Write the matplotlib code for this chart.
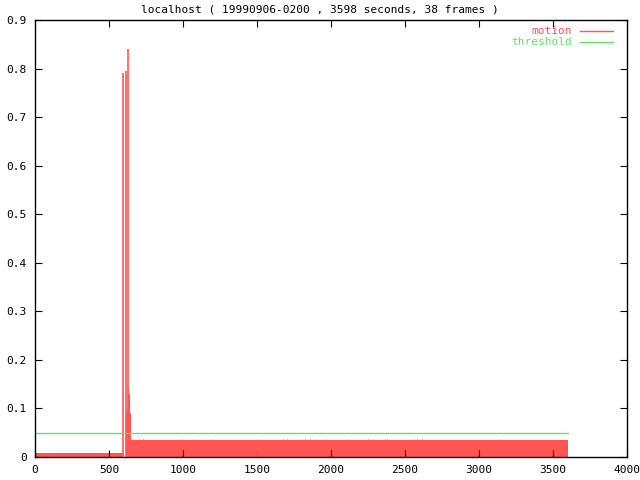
import matplotlib
matplotlib.use('Agg')
import matplotlib.pyplot as plt
import numpy as np

# motion level (step outline of the dense impulses)
base_t = [0, 590, 603, 614, 618, 622, 626, 636, 642, 648, 3598]
base_v = [0.008, 0.008, 0.0, 0.06, 0.09, 0.1, 0.14, 0.13, 0.09, 0.035, 0.035]

# tall motion spikes
spike_t = [597, 613, 630]
spike_v = [0.79, 0.795, 0.84]

# small bumps on the plateau
bump_t = [987, 1068, 1196, 1500, 1676, 1703, 1804, 1825, 1858, 1892, 1960,
          2108, 2250, 2284, 2365, 2379, 2554, 2581, 2615, 3142, 700, 730]
bump_v = [0.038] * len(bump_t)

thr_t = [0, 3598]
thr_v = [0.05, 0.05]

red = '#ff5555'
green = '#66e066'
mono = 'DejaVu Sans Mono'

fig = plt.figure(figsize=(6.4, 4.8), dpi=100)
ax = fig.add_axes([35/640, 23/480, 592/640, 437/480])

ax.fill_between(base_t, base_v, step='post', color=red, lw=0)
ax.vlines(spike_t, 0, spike_v, color=red, lw=1.2)
ax.vlines(bump_t, 0, bump_v, color=red, lw=0.8)
ax.plot(thr_t, thr_v, color=green, lw=1)

ax.set_xlim(0, 4000)
ax.set_ylim(0, 0.9)
ax.set_xticks(np.arange(0, 4001, 500))
ax.set_yticks(np.arange(0, 0.91, 0.1))
ax.set_yticklabels(['0'] + ['%.1f' % v for v in np.arange(0.1, 0.91, 0.1)])
ax.tick_params(direction='in', top=True, right=True, length=5, labelsize=8, pad=6)
for lab in ax.get_xticklabels() + ax.get_yticklabels():
    lab.set_family(mono)
for s in ax.spines.values():
    s.set_linewidth(1)

fig.text(0.5, 1 - 10/480, 'localhost ( 19990906-0200 , 3598 seconds, 38 frames )',
         ha='center', va='center', family=mono, fontsize=8)

# legend, gnuplot style
fig.text(572/640, 1 - 31/480, 'motion', ha='right', va='center', color=red, family=mono, fontsize=8)
fig.text(572/640, 1 - 42/480, 'threshold', ha='right', va='center', color=green, family=mono, fontsize=8)
fig.add_artist(plt.Line2D([580/640, 613/640], [1 - 31/480] * 2, color=red, lw=1))
fig.add_artist(plt.Line2D([580/640, 613/640], [1 - 42/480] * 2, color=green, lw=1))

fig.savefig('out.png', dpi=100)
